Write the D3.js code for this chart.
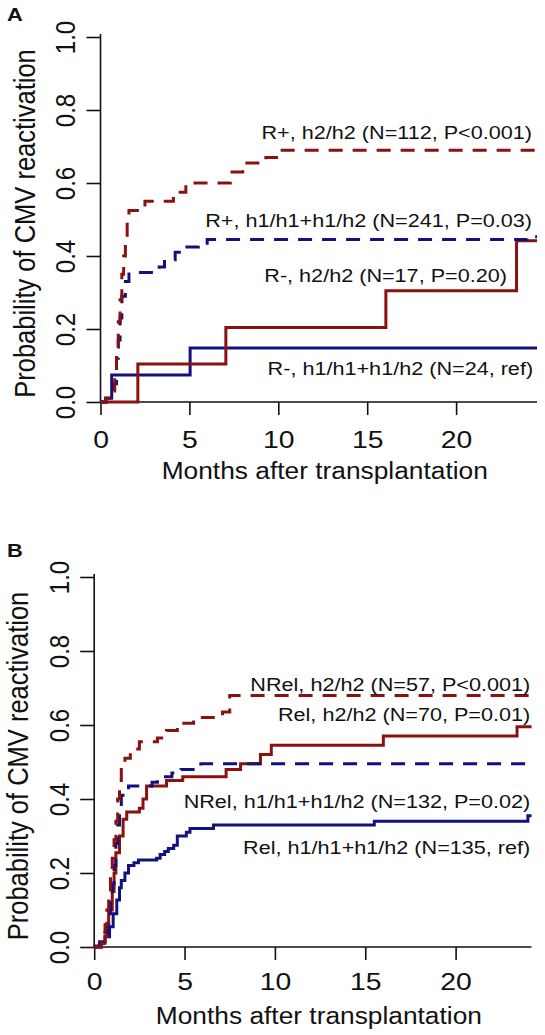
<!DOCTYPE html>
<html>
<head>
<meta charset="utf-8">
<script src="https://cdn.jsdelivr.net/npm/d3@7"></script>
<style>
  html, body { margin: 0; padding: 0; background: #fff; }
  svg { display: block; }
  text { font-family: "Liberation Sans", Arial, Helvetica, sans-serif; fill: #111; }
</style>
</head>
<body>
<svg id="chart" width="545" height="1035"></svg>
<script>
// ---------------- data ----------------
const monthTicks = [0, 5, 10, 15, 20];
const probTicks = [0, 0.2, 0.4, 0.6, 0.8, 1.0];
const xTitle = "Months after transplantation";
const yTitle = "Probability of CMV reactivation";

// Panel A
const aRposH2Time = [0, 0.3, 0.6, 0.8, 0.9, 1.0, 1.1, 1.2, 1.3, 1.4, 1.5, 1.6, 2.5, 4.1, 4.8, 7.3, 8.0, 9.3, 9.9];
const aRposH2Prob = [0, 0.01, 0.03, 0.08, 0.15, 0.22, 0.28, 0.35, 0.40, 0.45, 0.50, 0.525, 0.55, 0.575, 0.60, 0.63, 0.655, 0.67, 0.69];
const aRposH1Time = [0, 0.3, 0.7, 0.9, 1.0, 1.1, 1.2, 1.4, 1.6, 3.3, 3.6, 4.2, 4.6, 5.5, 6.0, 24.0];
const aRposH1Prob = [0, 0.01, 0.05, 0.12, 0.17, 0.23, 0.29, 0.33, 0.355, 0.37, 0.39, 0.41, 0.425, 0.435, 0.445, 0.453];
const aRnegH2Time = [0, 2.1, 7.05, 16.05, 23.4];
const aRnegH2Prob = [0, 0.104, 0.204, 0.305, 0.442];
const aRnegH1Time = [0, 0.3, 0.63, 5.04];
const aRnegH1Prob = [0, 0.01, 0.074, 0.148];
const aLabels = ["R+, h2/h2 (N=112, P<0.001)", "R+, h1/h1+h1/h2 (N=241, P=0.03)", "R-, h2/h2 (N=17, P=0.20)", "R-, h1/h1+h1/h2 (N=24, ref)"];

// Panel B
const bNrelH2Time = [0, 0.4, 0.5, 0.6, 0.7, 0.8, 0.9, 1.0, 1.1, 1.2, 1.3, 1.4, 1.5, 1.7, 2.0, 2.5, 3.5, 4.0, 4.6, 5.5, 7.1, 7.5];
const bNrelH2Prob = [0, 0.01, 0.03, 0.06, 0.10, 0.14, 0.19, 0.24, 0.29, 0.34, 0.40, 0.45, 0.49, 0.51, 0.535, 0.555, 0.565, 0.585, 0.605, 0.62, 0.635, 0.68];
const bRelH2Time = [0, 0.4, 0.6, 0.7, 0.8, 1.0, 1.1, 1.2, 1.4, 1.6, 1.8, 2.5, 2.7, 2.9, 4.0, 4.9, 7.3, 8.1, 9.2, 9.8, 16.0, 23.4];
const bRelH2Prob = [0, 0.01, 0.03, 0.06, 0.10, 0.15, 0.20, 0.255, 0.30, 0.345, 0.365, 0.375, 0.40, 0.435, 0.45, 0.46, 0.48, 0.495, 0.52, 0.545, 0.57, 0.595];
const bNrelH1Time = [0, 0.3, 0.6, 0.8, 0.9, 1.0, 1.1, 1.2, 1.3, 1.4, 1.5, 1.9, 3.2, 3.5, 4.3, 4.8, 5.9];
const bNrelH1Prob = [0, 0.01, 0.04, 0.08, 0.12, 0.17, 0.22, 0.28, 0.33, 0.38, 0.41, 0.435, 0.445, 0.46, 0.47, 0.48, 0.495];
const bRelH1Time = [0, 0.05, 0.3, 0.6, 0.85, 1.05, 1.25, 1.4, 1.5, 1.7, 1.9, 2.2, 2.45, 3.45, 3.65, 3.9, 4.1, 4.4, 4.6, 5.1, 5.3, 6.6, 15.5, 24.0];
const bRelH1Prob = [0, 0.003, 0.014, 0.028, 0.055, 0.09, 0.127, 0.16, 0.18, 0.20, 0.22, 0.228, 0.235, 0.24, 0.25, 0.258, 0.266, 0.275, 0.30, 0.31, 0.32, 0.33, 0.34, 0.355];
const bLabels = ["NRel, h2/h2 (N=57, P<0.001)", "Rel, h2/h2 (N=70, P=0.01)", "NRel, h1/h1+h1/h2 (N=132, P=0.02)", "Rel, h1/h1+h1/h2 (N=135, ref)"];

// ---------------- drawing ----------------
const RED = "#8b1010", BLUE = "#12127f";
const SX = 1.15; // the reference type is slightly wide
const svg = d3.select("#chart");

function drawPanel(cfg) {
  const g = svg.append("g");
  const x = d3.scaleLinear().domain([0, cfg.xmax]).range([cfg.left, cfg.right]);
  const y = d3.scaleLinear().domain([0, 1]).range([cfg.bottom, cfg.top]);

  // panel letter
  g.append("text").attr("transform", `translate(7,${cfg.letterY}) scale(${SX},1)`)
    .style("font-weight", "bold").style("font-size", "19px").text(cfg.letter);

  // axes via d3
  const yAxis = d3.axisLeft(y).tickValues(probTicks).tickFormat(d3.format(".1f"))
    .tickSize(14).tickSizeOuter(0);
  const gy = g.append("g").attr("transform", `translate(${cfg.left},0)`).call(yAxis);
  gy.select(".domain").remove();
  gy.selectAll(".tick line").attr("stroke", "#111").attr("stroke-width", 1.6);
  gy.selectAll(".tick text")
    .attr("x", 0).attr("y", 0).attr("dy", 0)
    .attr("transform", `translate(-25.5,0) scale(1.18,1) rotate(-90)`)
    .attr("text-anchor", "middle")
    .style("font-size", "24px").attr("fill", "#111")
    .style("font-family", '"Liberation Sans", Arial, sans-serif');

  const xAxis = d3.axisBottom(x).tickValues(monthTicks).tickFormat(d3.format("d"))
    .tickSize(13).tickSizeOuter(0);
  const gx = g.append("g").attr("transform", `translate(0,${cfg.bottom})`).call(xAxis);
  gx.select(".domain").remove();
  gx.selectAll(".tick line").attr("stroke", "#111").attr("stroke-width", 1.6);
  gx.selectAll(".tick text").attr("y", 0).attr("dy", 0)
    .attr("transform", `translate(0,${cfg.tickLabelOffset}) scale(1.18,1)`)
    .style("font-size", "24px").attr("fill", "#111")
    .style("font-family", '"Liberation Sans", Arial, sans-serif');

  // L-shaped box
  g.append("path")
    .attr("d", `M${cfg.left},${y(1) - 3}V${cfg.bottom}H${cfg.right}`)
    .attr("fill", "none").attr("stroke", "#111").attr("stroke-width", 1.6);

  // axis titles
  g.append("text")
    .attr("transform", `translate(${(cfg.left + cfg.right) / 2 + 6},${cfg.bottom + 77}) scale(1.12,1)`)
    .attr("text-anchor", "middle").style("font-size", "23.5px").text(xTitle);
  g.append("text")
    .attr("transform", `translate(${cfg.left - 66},${(cfg.top + cfg.bottom) / 2 + 4}) scale(${SX},1) rotate(-90)`)
    .attr("text-anchor", "middle").style("font-size", "25.5px").text(yTitle);

  // curves
  const line = d3.line().curve(d3.curveStepAfter).x(d => x(d[0])).y(d => y(d[1]));
  cfg.series.forEach(s => {
    const pts = s.t.map((t, i) => [t, s.p[i]]);
    pts.push([cfg.xmax, s.p[s.p.length - 1]]);
    g.append("path").datum(pts).attr("d", line)
      .attr("fill", "none").attr("stroke", s.color).attr("stroke-width", 3)
      .attr("stroke-dasharray", s.dashed ? "14,10" : null);
  });

  // labels
  cfg.labels.forEach(l => {
    g.append("text")
      .attr("transform", `translate(${x(l.x)},${y(l.y)}) scale(${SX},1)`)
      .attr("text-anchor", "end").style("font-size", "18.8px").text(l.text);
  });
}

drawPanel({
  letter: "A", letterY: 21, tickLabelOffset: 46,
  left: 100.5, right: 537, top: 37, bottom: 402, xmax: 24.55,
  series: [
    { t: aRnegH1Time, p: aRnegH1Prob, color: BLUE, dashed: false },
    { t: aRnegH2Time, p: aRnegH2Prob, color: RED, dashed: false },
    { t: aRposH1Time, p: aRposH1Prob, color: BLUE, dashed: true },
    { t: aRposH2Time, p: aRposH2Prob, color: RED, dashed: true }
  ],
  labels: [
    { text: aLabels[0], x: 24.27, y: 0.7205 },
    { text: aLabels[1], x: 24.27, y: 0.479 },
    { text: aLabels[2], x: 22.86, y: 0.329 },
    { text: aLabels[3], x: 24.33, y: 0.074 }
  ]
});

drawPanel({
  letter: "B", letterY: 557, tickLabelOffset: 43,
  left: 94.2, right: 531.5, top: 577, bottom: 947, xmax: 24.2,
  series: [
    { t: bRelH1Time, p: bRelH1Prob, color: BLUE, dashed: false },
    { t: bRelH2Time, p: bRelH2Prob, color: RED, dashed: false },
    { t: bNrelH1Time, p: bNrelH1Prob, color: BLUE, dashed: true },
    { t: bNrelH2Time, p: bNrelH2Prob, color: RED, dashed: true }
  ],
  labels: [
    { text: bLabels[0], x: 24.13, y: 0.693 },
    { text: bLabels[1], x: 24.13, y: 0.611 },
    { text: bLabels[2], x: 24.13, y: 0.376 },
    { text: bLabels[3], x: 24.13, y: 0.251 }
  ]
});
</script>
</body>
</html>
